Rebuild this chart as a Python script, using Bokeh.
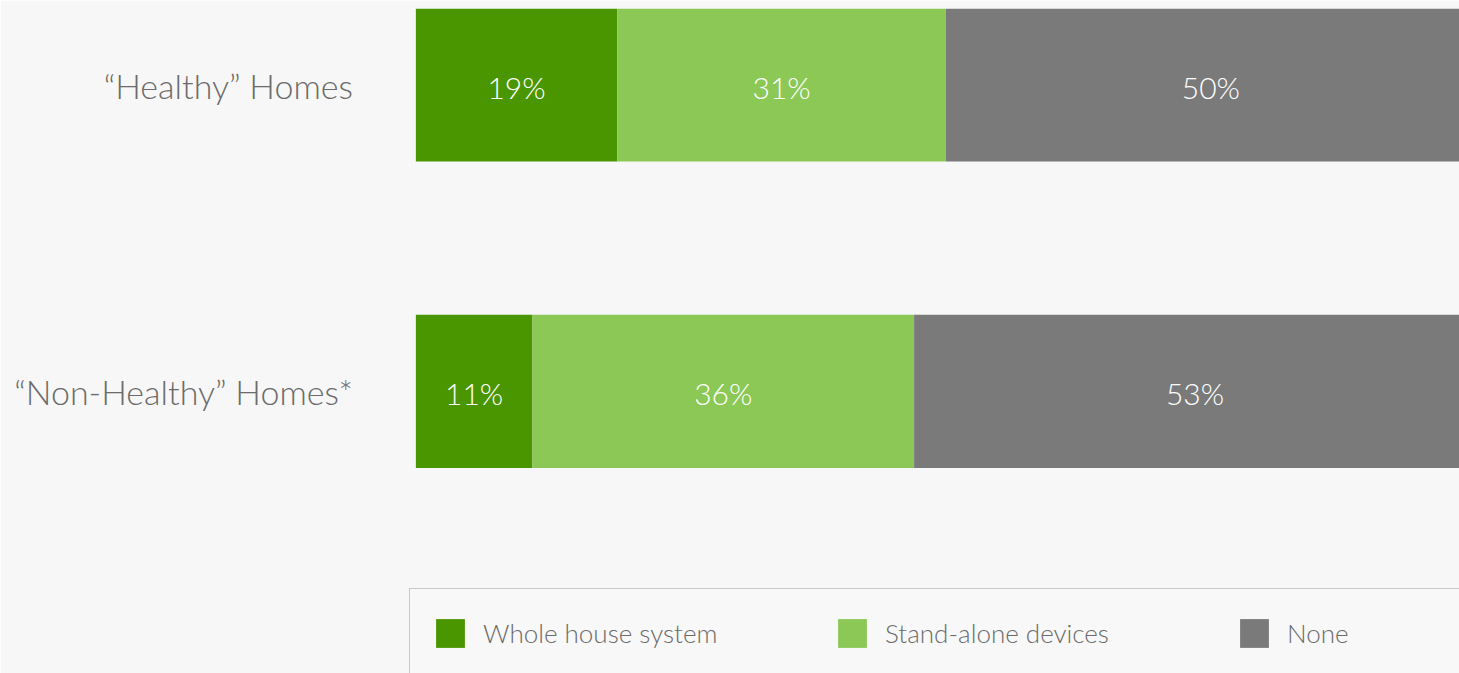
from bokeh.plotting import figure
from bokeh.models import ColumnDataSource, Range1d, FixedTicker
from bokeh.embed import file_html
from bokeh.resources import INLINE
from bokeh.core.properties import value
import numpy as np

# ---- data ----
categories = ["\u201cHealthy\u201d Homes", "\u201cNon-Healthy\u201d Homes*"]
series_names = ["Whole house system", "Stand-alone devices", "None"]
whole_house = [19, 11]
stand_alone = [31, 36]
none_vals = [50, 53]
ypos = [1, 0]

colors = ["#4a9600", "#8bc855", "#7a7a7a"]
FONT = "Lato Light, Lato"
TEXT_GREY = "#6b6b6b"
BG = "#f7f7f7"

src = ColumnDataSource(dict(y=ypos, whole=whole_house, stand=stand_alone, none=none_vals))

p = figure(width=1459, height=673, output_backend="svg", toolbar_location=None,
           x_range=Range1d(-0.6, 98.45), y_range=Range1d(-0.9201, 1.2496),
           min_border_left=409, min_border_right=0, min_border_top=8, min_border_bottom=0,
           background_fill_color=BG, border_fill_color=BG, outline_line_color=None)

p.hbar_stack(["whole", "stand", "none"], y="y", height=0.5, color=colors, line_color=None,
             source=src, legend_label=series_names)

# value labels
vals = np.array([whole_house, stand_alone, none_vals], dtype=float)  # series x category
cum = np.cumsum(vals, axis=0)
starts = cum - vals
centers = (starts + cum) / 2.0
lx, ly, lt = [], [], []
for si in range(vals.shape[0]):
    for ci in range(vals.shape[1]):
        lx.append(centers[si, ci])
        ly.append(ypos[ci])
        lt.append(f"{int(vals[si, ci])}%")
p.text(x=lx, y=ly, text=lt, text_align="center", text_baseline="middle",
       text_color="white", text_font_size="30px", text_font=value(FONT), y_offset=2)

# axes
p.xaxis.visible = False
p.xgrid.visible = False
p.ygrid.visible = False
ya = p.yaxis[0]
ya.ticker = FixedTicker(ticks=ypos)
ya.major_label_overrides = {y: c for y, c in zip(ypos, categories)}
ya.axis_line_color = None
ya.major_tick_line_color = None
ya.minor_tick_line_color = None
ya.major_label_standoff = 50
ya.major_label_text_font_size = "34px"
ya.major_label_text_font = FONT
ya.major_label_text_color = TEXT_GREY

# legend
lg = p.legend[0]
lg.orientation = "horizontal"
lg.location = (0, -4)
lg.margin = 0
lg.padding = 22
lg.spacing = 0
lg.glyph_width = 36
lg.glyph_height = 36
lg.label_standoff = 15
lg.label_width = 351
lg.label_height = 43
lg.label_text_font_size = "26px"
lg.label_text_font = FONT
lg.label_text_color = TEXT_GREY
lg.border_line_color = "#9a9a9a"
lg.border_line_width = 1
lg.background_fill_color = "#f8f8f8"
lg.background_fill_alpha = 1.0

open("out.html", "w").write(file_html(p, INLINE))
